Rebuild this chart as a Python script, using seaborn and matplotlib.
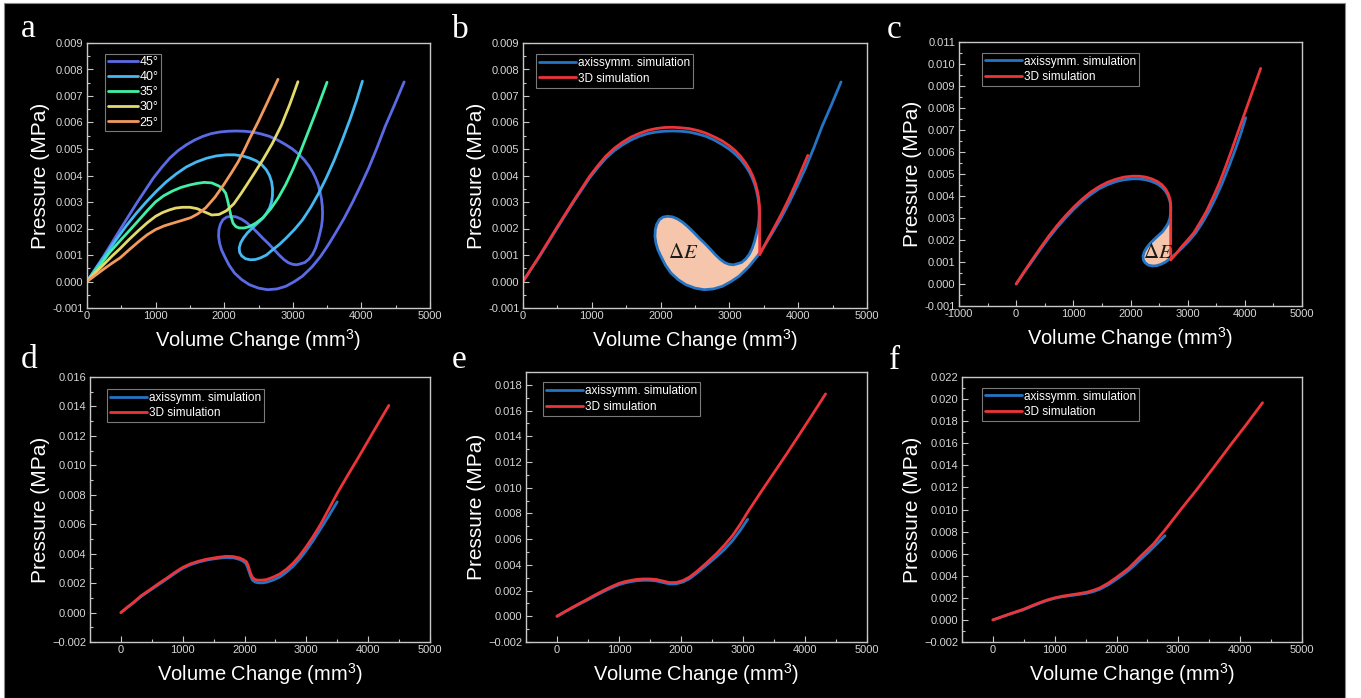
import numpy as np
import pandas as pd
import matplotlib
matplotlib.use("Agg")
import matplotlib.pyplot as plt
import seaborn as sns
from matplotlib.patches import Rectangle
from matplotlib.ticker import MultipleLocator, FuncFormatter

# ---- data (volume in mm3, pressure in MPa) ----
# axissymmetric simulation, cone angle 45..25 deg
vol_45 = [0, 242, 483, 725, 966, 1087, 1208, 1328, 1449, 1570, 1691, 1811, 1932, 2053, 2174, 2294,
          2415, 2536, 2657, 2778, 2899, 3000, 3092, 3170, 3237, 3290, 3333, 3370, 3396, 3418, 3430,
          3434, 3430, 3418, 3396, 3368, 3333, 3290, 3237, 3178, 3116, 3055, 2995, 2935, 2874,
          2800, 2729, 2645, 2560, 2475, 2391, 2318, 2246, 2172, 2101, 2035, 1981, 1944, 1923,
          1918, 1932, 1960, 2005, 2070, 2150, 2255, 2367, 2500, 2633, 2770, 2899, 3025, 3140,
          3280, 3406, 3515, 3623, 3745, 3865, 3985, 4106, 4228, 4348, 4485, 4623]
p_45 = [0, 0.00095, 0.00196, 0.00296, 0.0039, 0.0043, 0.00466, 0.00494, 0.00516, 0.00534,
        0.00548, 0.00558, 0.00564, 0.00567, 0.00568, 0.00567, 0.00564, 0.00557, 0.00548, 0.00534,
        0.00516, 0.00499, 0.00479, 0.00458, 0.00435, 0.00413, 0.0039, 0.00365, 0.0034, 0.00312,
        0.00284, 0.00258, 0.00233, 0.00207, 0.00183, 0.00154, 0.00126, 0.00103, 0.00085, 0.00072,
        0.00067, 0.00063, 0.00065, 0.00071, 0.00082, 0.001, 0.0012, 0.00143, 0.00164, 0.00187,
        0.00208, 0.00224, 0.00236, 0.00244, 0.00246, 0.00243, 0.00233, 0.00216, 0.00196, 0.0017,
        0.00145, 0.0012, 0.00095, 0.00062, 0.00032, 0.00007, -0.00012, -0.00025, -0.00031,
        -0.00028, -0.00018, 0.0, 0.0002, 0.00055, 0.00095, 0.00137, 0.00183, 0.00237, 0.00296,
        0.0036, 0.00428, 0.00505, 0.00586, 0.00668, 0.00753]

vol_40 = [0, 140, 280, 426, 572, 717, 863, 1009, 1155, 1300, 1446, 1594, 1741, 1886, 2032, 2150,
          2265, 2370, 2470, 2550, 2615, 2660, 2691, 2705, 2703, 2690, 2662, 2615, 2557, 2485,
          2411, 2340, 2283, 2240, 2219, 2225, 2254, 2310, 2382, 2455, 2528, 2615, 2703, 2805,
          2907, 3023, 3140, 3257, 3373, 3490, 3606, 3723, 3840, 3930, 4015]
p_40 = [0, 0.00053, 0.00104, 0.00158, 0.0021, 0.00257, 0.003, 0.0034, 0.00376, 0.00406, 0.00432,
        0.00451, 0.00465, 0.00474, 0.00478, 0.00478, 0.00474, 0.00466, 0.00455, 0.0044, 0.00421,
        0.004, 0.00376, 0.0035, 0.00323, 0.003, 0.00278, 0.00257, 0.00237, 0.0022, 0.00202,
        0.00184, 0.00165, 0.00146, 0.00127, 0.0011, 0.00097, 0.00086, 0.00082, 0.00083, 0.00089,
        0.001, 0.00119, 0.0014, 0.00165, 0.00196, 0.00232, 0.00278, 0.00331, 0.00392, 0.00459,
        0.00535, 0.00616, 0.00684, 0.00756]

vol_35 = [0, 100, 200, 330, 469, 610, 750, 870, 997, 1120, 1250, 1370, 1493, 1600, 1709, 1820,
          1925, 1980, 2022, 2050, 2075, 2100, 2129, 2170, 2221, 2290, 2356, 2460, 2571, 2680,
          2787, 2895, 3003, 3110, 3218, 3360, 3499]
p_35 = [0, 0.00033, 0.00065, 0.0011, 0.0015, 0.0019, 0.0023, 0.00265, 0.003, 0.00324, 0.00342,
        0.00355, 0.00364, 0.0037, 0.00374, 0.00372, 0.0036, 0.00348, 0.00333, 0.00306, 0.00276,
        0.00245, 0.0022, 0.00207, 0.00202, 0.00202, 0.00206, 0.0022, 0.00242, 0.00275, 0.00315,
        0.00365, 0.00424, 0.00489, 0.0056, 0.00655, 0.00752]

vol_30 = [0, 125, 250, 365, 481, 615, 750, 875, 1000, 1100, 1200, 1290, 1390, 1500, 1604, 1710,
          1818, 1925, 2032, 2140, 2246, 2400, 2567, 2700, 2834, 2955, 3075]
p_30 = [0, 0.00034, 0.00066, 0.00096, 0.00124, 0.00159, 0.00192, 0.00221, 0.00246, 0.0026,
        0.0027, 0.00277, 0.0028, 0.0028, 0.00275, 0.00263, 0.00251, 0.00253, 0.00267, 0.00293,
        0.00332, 0.00393, 0.00461, 0.0052, 0.0059, 0.00668, 0.00754]

vol_25 = [0, 125, 250, 370, 486, 620, 750, 875, 1000, 1125, 1250, 1380, 1514, 1620, 1730, 1865,
          2000, 2100, 2200, 2290, 2378, 2490, 2600, 2690, 2784]
p_25 = [0, 0.00024, 0.00048, 0.0007, 0.0009, 0.00121, 0.0015, 0.00176, 0.00196, 0.0021, 0.0022,
        0.0023, 0.00241, 0.00256, 0.00278, 0.00318, 0.00368, 0.00408, 0.0045, 0.00495, 0.00543,
        0.006, 0.0066, 0.0071, 0.00763]

# 3D simulation
vol_3d_45 = [0, 242, 483, 725, 966, 1087, 1208, 1328, 1449, 1570, 1691, 1811, 1932, 2053, 2174,
             2294, 2415, 2536, 2657, 2778, 2899, 3000, 3092, 3170, 3237, 3293, 3340, 3377, 3405,
             3425, 3436, 3440, 3440, 3555, 3671, 3770, 3865, 4000, 4140]
p_3d_45 = [0, 0.00098, 0.002, 0.003, 0.00396, 0.00437, 0.00474, 0.00503, 0.00526, 0.00545,
           0.00559, 0.0057, 0.00577, 0.00581, 0.00582, 0.0058, 0.00577, 0.0057, 0.0056, 0.00546,
           0.0053, 0.00512, 0.00492, 0.0047, 0.00447, 0.00423, 0.00398, 0.00371, 0.00343,
           0.00315, 0.00288, 0.0026, 0.00101, 0.00158, 0.00213, 0.00262, 0.00312, 0.0039, 0.00476]

vol_3d_40 = [0, 140, 280, 426, 572, 717, 863, 1009, 1155, 1300, 1446, 1594, 1741, 1886, 2032,
             2150, 2265, 2370, 2470, 2550, 2615, 2660, 2690, 2703, 2703, 2790, 2880, 2990, 3105,
             3218, 3330, 3443, 3555, 3668, 3780, 3870, 3955, 4115, 4277]
p_3d_40 = [0, 0.00056, 0.0011, 0.00165, 0.00218, 0.00266, 0.0031, 0.0035, 0.00386, 0.00417,
           0.00442, 0.00462, 0.00476, 0.00486, 0.0049, 0.0049, 0.00486, 0.00478, 0.00466, 0.00451,
           0.00432, 0.0041, 0.00386, 0.0036, 0.00109, 0.00135, 0.00165, 0.00197, 0.00232, 0.0028,
           0.00331, 0.00393, 0.00459, 0.00536, 0.00616, 0.00683, 0.00745, 0.00862, 0.0098]

vol_3d_35 = [0, 100, 200, 330, 469, 610, 750, 870, 997, 1120, 1250, 1370, 1493, 1600, 1709, 1820,
             1925, 1985, 2030, 2058, 2080, 2102, 2125, 2165, 2210, 2280, 2356, 2460, 2571, 2680,
             2787, 2895, 3003, 3110, 3218, 3360, 3499, 3680, 3865, 4100, 4334]
p_3d_35 = [0, 0.00035, 0.00068, 0.00115, 0.00155, 0.00197, 0.00236, 0.00272, 0.00306, 0.0033,
           0.00348, 0.00361, 0.0037, 0.00377, 0.00382, 0.0038, 0.0037, 0.00358, 0.00345, 0.0032,
           0.0029, 0.00262, 0.0024, 0.00226, 0.0022, 0.0022, 0.00224, 0.0024, 0.00262, 0.00295,
           0.00336, 0.00388, 0.0045, 0.00517, 0.0059, 0.007, 0.0081, 0.0094, 0.0107, 0.0124,
           0.01407]

vol_3d_30 = [0, 125, 250, 365, 481, 615, 750, 875, 1000, 1100, 1200, 1290, 1390, 1500, 1604,
             1710, 1818, 1925, 2032, 2140, 2246, 2400, 2567, 2700, 2834, 2955, 3075, 3280, 3476,
             3700, 3904, 4120, 4332]
p_3d_30 = [0, 0.00036, 0.0007, 0.001, 0.0013, 0.00166, 0.002, 0.0023, 0.00256, 0.0027, 0.0028,
           0.00287, 0.0029, 0.0029, 0.00286, 0.00274, 0.00262, 0.00263, 0.00278, 0.00306, 0.00345,
           0.0041, 0.00485, 0.00553, 0.0063, 0.00715, 0.0081, 0.0096, 0.011, 0.0126, 0.0141,
           0.0157, 0.0173]

vol_3d_25 = [0, 125, 250, 370, 486, 620, 750, 875, 1000, 1125, 1250, 1380, 1514, 1620, 1730,
             1865, 2000, 2100, 2200, 2290, 2378, 2490, 2600, 2690, 2784, 3040, 3297, 3570, 3838,
             4100, 4362]
p_3d_25 = [0, 0.00025, 0.0005, 0.00073, 0.00095, 0.00126, 0.00155, 0.0018, 0.002, 0.00215,
           0.00226, 0.00237, 0.0025, 0.00267, 0.0029, 0.00333, 0.00385, 0.00427, 0.0047, 0.0052,
           0.0057, 0.0063, 0.0069, 0.00752, 0.00815, 0.01, 0.0118, 0.0138, 0.0158, 0.0177,
           0.01967]

angles = ["45°", "40°", "35°", "30°", "25°"]
angle_colors = ["#5b6be6", "#45b9f2", "#3ff0a6", "#e4da6c", "#f29a5c"]

# dE region: jump of the 3D curve (volume, low p, high p) and the blue loop it cuts off
# (loop from the first point at start volume to the last point at end volume)
jump_45 = (3440, 0.00101, 0.0026, 3434, 3406)
jump_40 = (2703, 0.00109, 0.0036, 2703, 2703)

BLUE = "#2474c4"
RED = "#ec3439"
PEACH = "#f5c6ab"
FG = "#d6d6d6"

sns.set_style("dark", {"axes.facecolor": "black", "figure.facecolor": "white",
                       "axes.edgecolor": "#c8c8c8", "text.color": "white",
                       "axes.labelcolor": "white", "xtick.color": FG, "ytick.color": FG})
plt.rcParams['font.family'] = ['Liberation Sans', 'DejaVu Sans']
plt.rcParams['mathtext.fontset'] = 'custom'
plt.rcParams['mathtext.rm'] = 'Liberation Sans'
plt.rcParams['mathtext.it'] = 'Liberation Sans:italic'

W, H = 1361, 698
fig = plt.figure(figsize=(W / 100, H / 100), dpi=100)
fig.add_artist(Rectangle((4 / W, 0), 1341 / W, 695 / H, transform=fig.transFigure,
                         facecolor="black", edgecolor="#8a8a8a", lw=0.8, zorder=-10))


def make_ax(l, r, t, b):
    return fig.add_axes([l / W, 1 - b / H, (r - l) / W, (b - t) / H])


def style(ax, xlim, ylim, ymaj, minus):
    ax.set_xlim(*xlim)
    ax.set_ylim(*ylim)
    ax.xaxis.set_major_locator(MultipleLocator(1000))
    ax.xaxis.set_minor_locator(MultipleLocator(500))
    ax.yaxis.set_major_locator(MultipleLocator(ymaj))
    ax.yaxis.set_minor_locator(MultipleLocator(ymaj / 2))
    ax.xaxis.set_major_formatter(FuncFormatter(lambda v, p: f"{v:.0f}".replace("-", minus)))
    ax.yaxis.set_major_formatter(
        FuncFormatter(lambda v, p: f"{round(v, 4) + 0:.3f}".replace("-", minus)))
    ax.tick_params(which="both", direction="in", colors="#c8c8c8", labelcolor=FG,
                   labelsize=8, pad=2.5, bottom=True, left=True, top=False, right=False)
    ax.tick_params(which="major", length=4, width=0.8)
    ax.tick_params(which="minor", length=2, width=0.8)
    for s in ax.spines.values():
        s.set_visible(True)
        s.set_color("#c8c8c8")
        s.set_linewidth(1)
    ax.grid(False)
    ax.set_xlabel("Volume Change (mm$^3$)", fontsize=14.5, labelpad=4)
    ax.set_ylabel("Pressure (MPa)", fontsize=15, labelpad=1.5)


def legend(ax, loc_px):
    lg = ax.legend(loc="upper left", bbox_to_anchor=loc_px, fontsize=8.5, frameon=True,
                   fancybox=False, facecolor="black", edgecolor="#7a7a7a", framealpha=1,
                   handlelength=3.1, handletextpad=0.2, labelspacing=0.3, borderpad=0.25,
                   borderaxespad=0)
    lg.get_frame().set_linewidth(0.8)
    for t in lg.get_texts():
        t.set_color("white")


def draw_pair(ax, vb, pb, v3, p3):
    sns.lineplot(x=vb, y=pb, sort=False, estimator=None, color=BLUE, lw=2,
                 label="axissymm. simulation", ax=ax)
    sns.lineplot(x=v3, y=p3, sort=False, estimator=None, color=RED, lw=2,
                 label="3D simulation", ax=ax)


def draw_fill(ax, vb, pb, jump, txt_xy):
    xj, y_lo, y_hi, v_start, v_end = jump
    i0 = vb.index(v_start)
    i1 = len(vb) - 1 - vb[::-1].index(v_end) + 1
    fx = vb[i0:i1] + [xj, xj]
    fy = pb[i0:i1] + [y_lo, y_hi]
    ax.fill(fx, fy, color=PEACH, lw=0, zorder=1)
    ax.text(*txt_xy, r"$\Delta E$", fontsize=15, color="#1a1a1a", ha="center", va="center",
            math_fontfamily="stix", zorder=5)


# a: all cone angles
ax_a = make_ax(87, 430, 43, 308)
for v, p, lab, c in zip([vol_45, vol_40, vol_35, vol_30, vol_25],
                        [p_45, p_40, p_35, p_30, p_25], angles, angle_colors):
    sns.lineplot(x=v, y=p, sort=False, estimator=None, color=c, lw=2, label=lab, ax=ax_a)
style(ax_a, (0, 5000), (-0.001, 0.009), 0.001, "-")
lg = ax_a.legend(loc="upper left", bbox_to_anchor=(0.053, 0.96), fontsize=9, frameon=True,
                 fancybox=False, facecolor="black", edgecolor="#7a7a7a", framealpha=1,
                 handlelength=2.4, handletextpad=0.15, labelspacing=0.25, borderpad=0.2,
                 borderaxespad=0)
lg.get_frame().set_linewidth(0.8)

# b: 45 deg
ax_b = make_ax(523, 867, 43, 308)
draw_fill(ax_b, vol_45, p_45, jump_45, (2330, 0.00108))
draw_pair(ax_b, vol_45, p_45, vol_3d_45, p_3d_45)
style(ax_b, (0, 5000), (-0.001, 0.009), 0.001, "-")
legend(ax_b, (0.038, 0.958))

# c: 40 deg
ax_c = make_ax(959, 1302, 42, 306)
draw_fill(ax_c, vol_40, p_40, jump_40, (2475, 0.00145))
draw_pair(ax_c, vol_40, p_40, vol_3d_40, p_3d_40)
style(ax_c, (-1000, 5000), (-0.001, 0.011), 0.001, "-")
legend(ax_c, (0.068, 0.96))

# d: 35 deg
ax_d = make_ax(90, 430, 377, 642)
draw_pair(ax_d, vol_35, p_35, vol_3d_35, p_3d_35)
style(ax_d, (-500, 5000), (-0.002, 0.016), 0.002, "\u2212")
legend(ax_d, (0.05, 0.955))

# e: 30 deg
ax_e = make_ax(526, 867, 372, 642)
draw_pair(ax_e, vol_30, p_30, vol_3d_30, p_3d_30)
style(ax_e, (-500, 5000), (-0.002, 0.019), 0.002, "\u2212")
legend(ax_e, (0.05, 0.962))

# f: 25 deg
ax_f = make_ax(962, 1302, 377, 642)
draw_pair(ax_f, vol_25, p_25, vol_3d_25, p_3d_25)
style(ax_f, (-500, 5000), (-0.002, 0.022), 0.002, "\u2212")
legend(ax_f, (0.06, 0.96))

# panel letters
for lab, x, y in [("a", 21, 37), ("b", 452, 38), ("c", 887, 38),
                  ("d", 21, 368), ("e", 452, 368), ("f", 889, 369)]:
    fig.text(x / W, 1 - y / H, lab, fontsize=24, color="white", family="Liberation Serif",
             va="baseline", ha="left")

fig.savefig("out.png", dpi=100, facecolor="white")
